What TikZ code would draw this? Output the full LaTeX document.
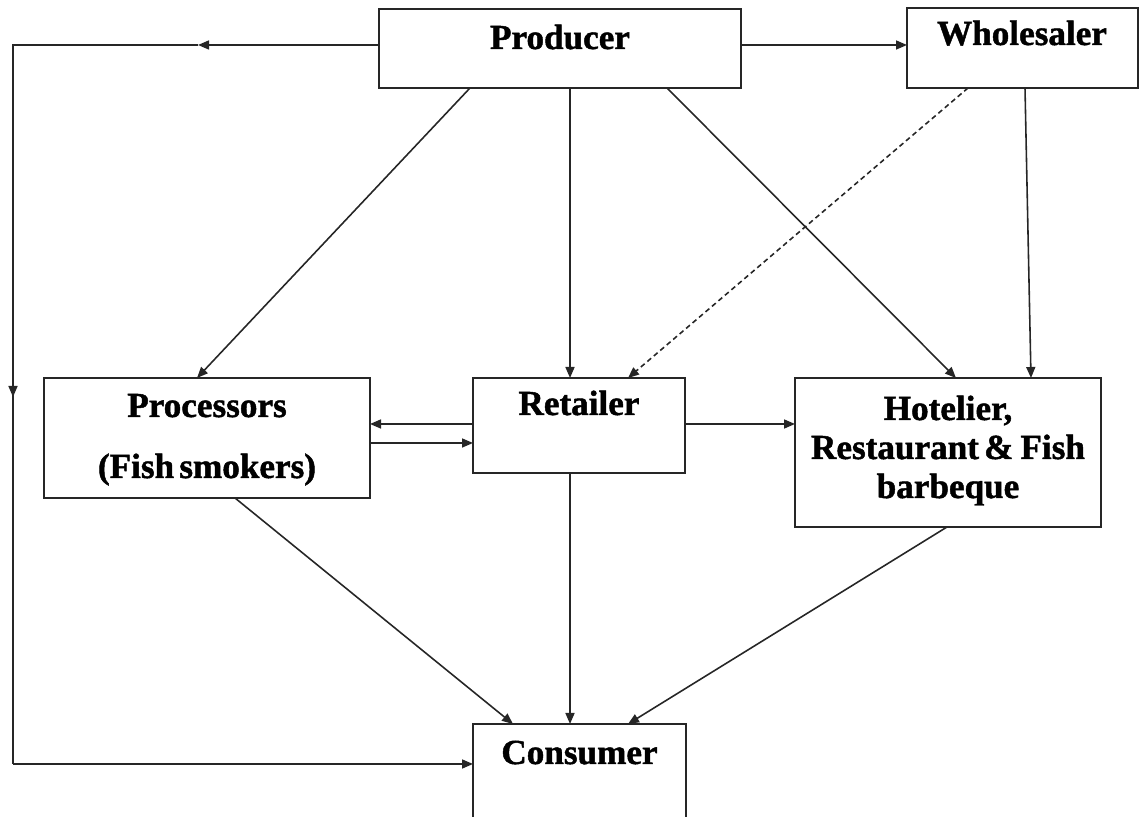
\documentclass[tikz,border=0pt]{standalone}
\usepackage{fontspec}
\setmainfont{Liberation Serif}[BoldFeatures={FakeBold=1.3}]
\usetikzlibrary{arrows.meta}
\tikzset{
  box/.style={draw=black!85, line width=0.55pt, inner sep=0pt, outer sep=0pt},
  lbl/.style={font=\fontsize{10}{11}\selectfont\bfseries, inner sep=0pt, outer sep=0pt, anchor=base},
  ln/.style={draw=black!85, line width=0.45pt},
  arr/.style={ln, -{Triangle[length=1.1mm,width=0.9mm]}},
  dsh/.style={arr, dash pattern=on 0.5mm off 0.35mm},
}
\begin{document}
\begin{tikzpicture}[x=0.1mm,y=-0.1mm]
\useasboundingbox (0,0) rectangle (1139,817);
\clip (0,0) rectangle (1139,817);
% boxes
\node[box, minimum width=36.2mm, minimum height=7.9mm] (prod) at (560,48.5) {};
\node[box, minimum width=23.1mm, minimum height=8.0mm] (whole) at (1022.5,48) {};
\node[box, minimum width=32.6mm, minimum height=12.0mm] (proc) at (207,438) {};
\node[box, minimum width=21.2mm, minimum height=9.5mm] (ret) at (579,425.5) {};
\node[box, minimum width=30.6mm, minimum height=14.9mm] (hotel) at (948,452.5) {};
\node[box, minimum width=21.3mm, minimum height=12.6mm] (cons) at (579.5,787) {};
% labels
\node[lbl] (prodL) at (560,49) {Producer};
\node[lbl] (wholeL) at (1022,45) {Wholesaler};
\node[lbl] (procA) at (207,417) {Processors};
\node[lbl] (procB) at (207,478) {(Fish\hspace{0.15em}smokers)};
\node[lbl] (retL) at (579,415) {Retailer};
\node[lbl] (hotA) at (948,420) {Hotelier,};
\node[lbl] (hotB) at (948,459) {Restaurant\hspace{0.15em}\&\hspace{0.2em}Fish};
\node[lbl] (hotC) at (948,498) {barbeque};
\node[lbl] (consL) at (579.5,764) {Consumer};
% left loop
\coordinate (lmid) at (198,45);
\coordinate (ltop) at (13,45);
\coordinate (ldown) at (13,397);
\coordinate (lbot) at (13,764);
\draw[arr] (prod.west |- 0,45) -- (lmid);
\draw[ln] (lmid) -- (ltop) -- (ldown);
\draw[arr] (ltop) -- (ldown);
\draw[ln] (ldown) -- (lbot);
\draw[arr] (lbot) -- (cons.west |- 0,764);
% producer to wholesaler
\draw[arr] (prod.east |- 0,45) -- (whole.west |- 0,45);
% producer downwards
\draw[arr] (prod.south -| 470,0) -- (proc.north -| 197,0);
\draw[arr] (prod.south -| 570,0) -- (ret.north -| 570,0);
\draw[arr] (prod.south -| 667,0) -- (hotel.north -| 956,0);
% wholesaler downwards
\draw[dsh] (whole.south -| 968,0) -- (ret.north -| 628,0);
\draw[arr] (whole.south -| 1025,0) -- (hotel.north -| 1031,0);
% between middle row
\draw[arr] (ret.west |- 0,424) -- (proc.east |- 0,424);
\draw[arr] (proc.east |- 0,443) -- (ret.west |- 0,443);
\draw[arr] (ret.east |- 0,424) -- (hotel.west |- 0,424);
% to consumer
\draw[arr] (proc.south -| 235,0) -- (cons.north -| 513,0);
\draw[arr] (ret.south -| 570,0) -- (cons.north -| 570,0);
\draw[arr] (hotel.south -| 947,0) -- (cons.north -| 628,0);
\end{tikzpicture}
\end{document}
